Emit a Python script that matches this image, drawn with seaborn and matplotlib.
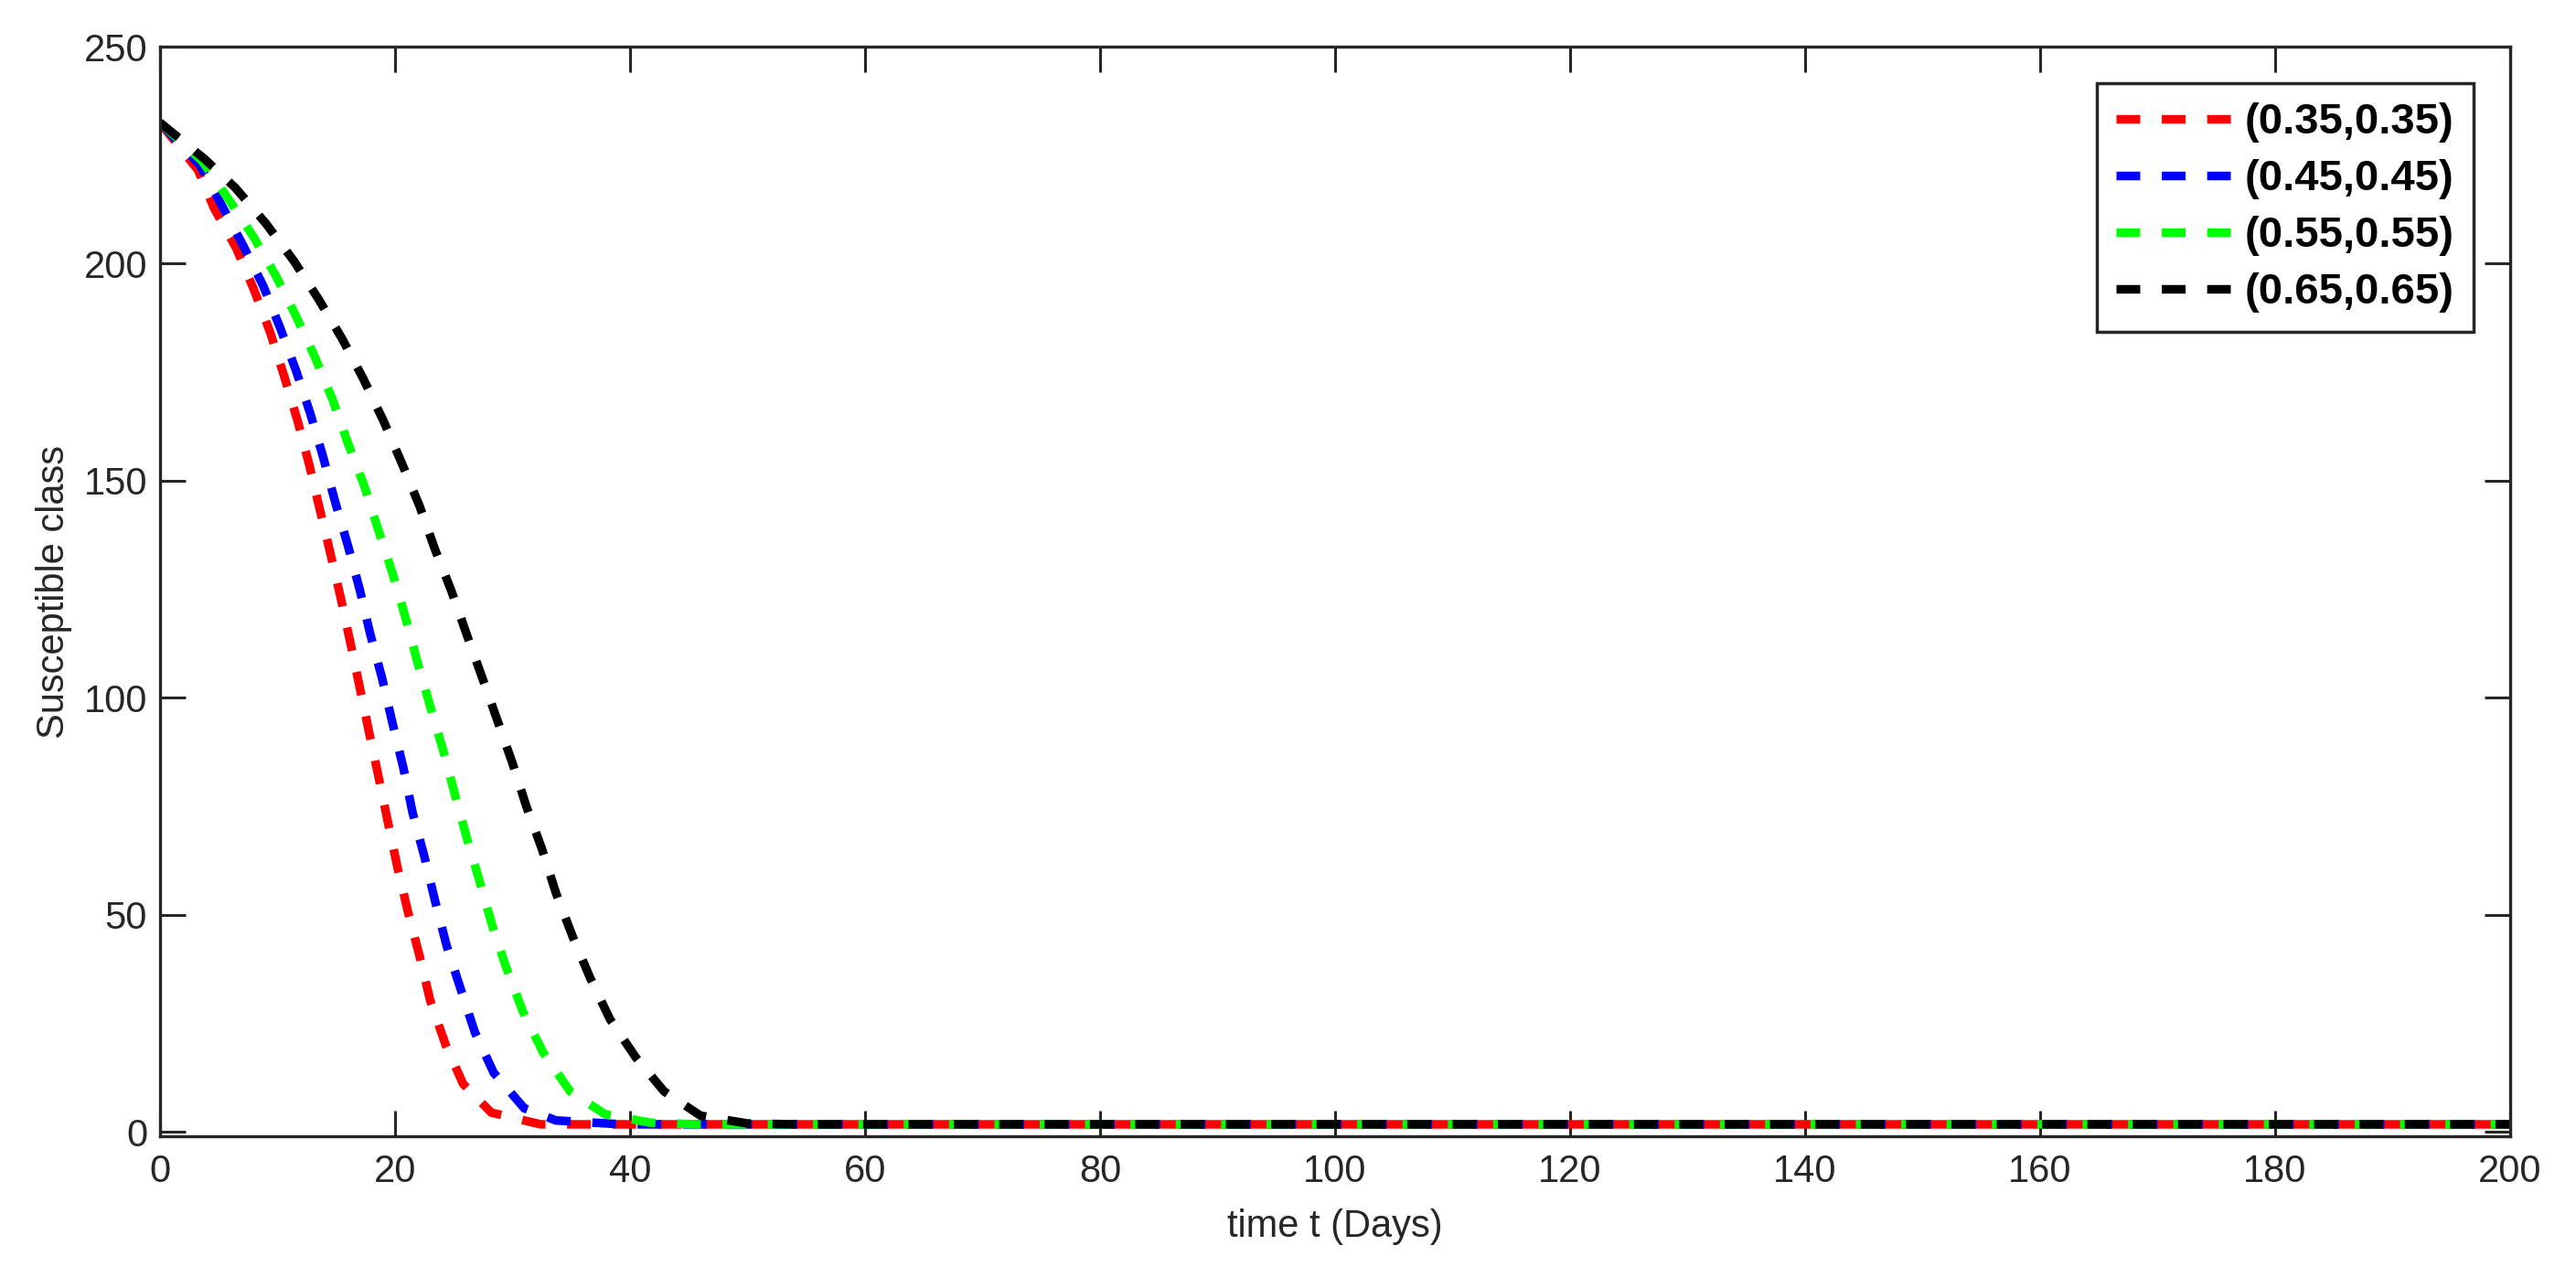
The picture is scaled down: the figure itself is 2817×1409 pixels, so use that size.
import pandas as pd
import matplotlib
matplotlib.use("Agg")
import matplotlib.pyplot as plt
import seaborn as sns

# values
t_035 = [0, 3.25, 4.6, 6.5, 8.0, 9.4, 10.6, 11.7, 12.7, 13.6, 14.5, 15.4, 16.2, 17.0,
         17.8, 18.6, 19.4, 20.2, 21.1, 22.1, 23.0, 24.3, 25.8, 28.2, 32.4, 200]
s_035 = [232.5, 221.5, 212.8, 203.5, 194, 184, 173.8, 163.9, 153.7, 143.4, 133.3, 122.8,
         112.7, 102.4, 92, 81.8, 71.3, 61.1, 50.7, 40.4, 30.2, 20.1, 11, 4.4, 1.7, 1.7]

t_045 = [0, 3.4, 5.2, 7.0, 8.8, 10.2, 11.6, 12.8, 13.9, 14.9, 16.0, 17.0, 17.9, 18.9,
         19.8, 20.7, 21.5, 22.5, 23.4, 24.4, 25.6, 26.8, 28.4, 31.0, 33.7, 39.3, 200]
s_045 = [232.5, 222.7, 213.7, 204.6, 194.8, 185.4, 175.2, 165.4, 155.3, 145.2, 135, 124.9,
         114.6, 104.5, 94, 84, 73.5, 63.4, 53.3, 42.8, 32.8, 22.9, 13.6, 5.4, 2.6, 1.7, 1.7]

t_055 = [0, 3.6, 5.8, 8.0, 9.9, 11.6, 13.2, 14.7, 16.0, 17.4, 18.6, 19.8, 20.9, 21.9,
         23.0, 24.1, 25.1, 26.1, 27.2, 28.3, 29.5, 30.9, 32.6, 34.9, 37.9, 41.7, 45.6, 200]
s_055 = [232.5, 223.6, 215, 206, 197, 187.8, 178.4, 168.6, 158.6, 148.7, 138.5, 128.6,
         118.4, 108.3, 98, 87.9, 77.7, 67.8, 57.7, 47.3, 37.6, 27.6, 18.3, 9.3, 4.0, 2.1, 1.7, 1.7]

t_065 = [0, 3.8, 6.4, 9.0, 11.4, 13.5, 15.5, 17.3, 19.0, 20.6, 22.1, 23.4, 24.8, 26.1,
         27.4, 28.7, 30.0, 31.2, 32.5, 33.7, 35.1, 36.6, 38.3, 40.5, 42.9, 46.0, 50.0, 54.0, 200]
s_065 = [232.5, 224.1, 217.5, 209.3, 200.6, 191.8, 182.7, 173.5, 163.9, 153.9, 144.1, 134.2,
         124.6, 114.6, 104.8, 94.9, 84.9, 74.8, 65.2, 55, 45.1, 35.5, 25.9, 17.1, 9.3, 3.7,
         1.9, 1.7, 1.7]

labels = ["(0.35,0.35)", "(0.45,0.45)", "(0.55,0.55)", "(0.65,0.65)"]
colors = ["#ff0000", "#0000ff", "#00ff00", "#000000"]
series = [(t_035, s_035), (t_045, s_045), (t_055, s_055), (t_065, s_065)]

sns.set_theme(style="white")
plt.rcParams["font.family"] = ["Liberation Sans", "DejaVu Sans"]
dark = "#262626"
lw = 6.8
dash = (2.75, 2.5)

fig = plt.figure(figsize=(28.17, 14.09), dpi=100)
ax = fig.add_axes([0.0621, 0.1178, 0.9123, 0.846])

for (t, s), lab, col in zip(series, labels, colors):
    df = pd.DataFrame({"t": t, "S": s})
    sns.lineplot(data=df, x="t", y="S", ax=ax, color=col, label=lab,
                 linewidth=lw, sort=False, estimator=None)
    ax.lines[-1].set_dashes(dash)

ax.set_xlim(0, 200)
ax.set_ylim(-1.05, 250)
ax.set_xticks(range(0, 201, 20))
ax.set_yticks(range(0, 251, 50))
ax.set_xlabel("time t (Days)", fontsize=30, color=dark, labelpad=14)
ax.set_ylabel("Susceptible class", fontsize=30, color=dark, labelpad=9)

for sp in ax.spines.values():
    sp.set_color(dark)
    sp.set_linewidth(2.4)
    sp.set_visible(True)
ax.tick_params(axis="both", which="both", direction="in", length=20, width=2.2,
               colors=dark, labelsize=30, top=True, right=True, bottom=True, left=True)
ax.tick_params(axis="x", pad=14)
ax.tick_params(axis="y", pad=10)

leg = ax.legend(loc="upper right", bbox_to_anchor=(0.9844, 0.9664), borderaxespad=0,
                prop={"weight": "bold", "size": 34}, frameon=True, fancybox=False,
                framealpha=1, handlelength=2.65, handletextpad=0.33, labelspacing=0.38,
                borderpad=0.45)
leg.get_frame().set_edgecolor(dark)
leg.get_frame().set_linewidth(2.5)
for h in leg.get_lines():
    h.set_linewidth(lw)
    h.set_dashes(dash)
for txt in leg.get_texts():
    txt.set_color("black")

fig.savefig("out.png", dpi=100)
plt.close(fig)
